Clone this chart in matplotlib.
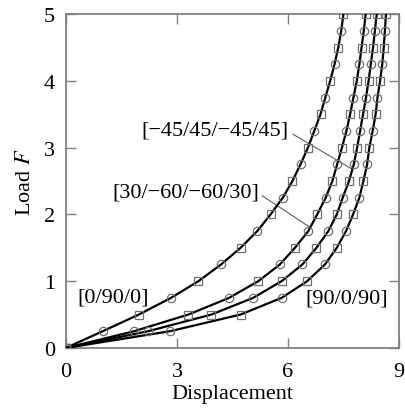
import matplotlib
matplotlib.use("Agg")
import matplotlib.pyplot as plt

# Load levels (shared by all curves)
load = [0, 0.25, 0.5, 0.75, 1.0, 1.25, 1.5, 1.75, 2.0, 2.25, 2.5,
        2.75, 3.0, 3.25, 3.5, 3.75, 4.0, 4.25, 4.5, 4.75, 5.0]

# Displacement for each lay-up
disp_0_90_0 = [0, 0.99, 1.97, 2.84, 3.58, 4.19, 4.72, 5.17, 5.53, 5.86, 6.12,
               6.34, 6.54, 6.71, 6.88, 7.01, 7.14, 7.26, 7.36, 7.44, 7.50]
disp_30_60 = [0, 1.84, 3.31, 4.41, 5.20, 5.78, 6.19, 6.55, 6.79, 7.02, 7.20,
              7.33, 7.46, 7.58, 7.68, 7.77, 7.86, 7.93, 7.99, 8.05, 8.10]
disp_45_45 = [0, 2.22, 3.93, 5.06, 5.83, 6.39, 6.77, 7.09, 7.32, 7.48, 7.65,
              7.78, 7.87, 7.95, 8.03, 8.11, 8.18, 8.24, 8.30, 8.35, 8.40]
disp_90_0_90 = [0, 2.81, 4.72, 5.83, 6.52, 7.00, 7.32, 7.57, 7.76, 7.93, 8.04,
                8.14, 8.20, 8.29, 8.37, 8.42, 8.49, 8.55, 8.59, 8.62, 8.65]

series = [disp_0_90_0, disp_30_60, disp_45_45, disp_90_0_90]

labels = ["[0/90/0]", "[30/\u221260/\u221260/30]",
          "[\u221245/45/\u221245/45]", "[90/0/90]"]

xticks = [0, 3, 6, 9]
yticks = [0, 1, 2, 3, 4, 5]

plt.rcParams['font.family'] = ['Liberation Serif', 'DejaVu Serif']
plt.rcParams['mathtext.fontset'] = 'stix'

fig = plt.figure(figsize=(4.05, 4.10), dpi=100)
ax = fig.add_axes([0.163, 0.149, 0.822, 0.814])

mcol = '#707070'
for d in series:
    ax.plot(d, load, color='black', lw=1.6, zorder=3)
    ax.plot(d[0::2], load[0::2], ls='none', marker='s', ms=5.8,
            mfc='none', mec=mcol, mew=0.9, zorder=4)
    ax.plot(d[1::2], load[1::2], ls='none', marker='o', ms=6.0,
            mfc='none', mec=mcol, mew=0.9, zorder=4)

fs = 16
ax.text(0.32, 0.76, labels[0], fontsize=fs, ha='left', va='center')
ax.text(6.46, 0.75, labels[3], fontsize=fs, ha='left', va='center')
ax.text(5.22, 2.34, labels[1], fontsize=fs, ha='right', va='center')
ax.text(6.02, 3.26, labels[2], fontsize=fs, ha='right', va='center')

lcol = '#606060'
ax.plot([5.30, 6.59], [2.28, 1.81], color=lcol, lw=0.8, zorder=2)
ax.plot([6.14, 7.73], [3.20, 2.68], color=lcol, lw=0.8, zorder=2)

ax.set_xlim(0, 9)
ax.set_ylim(0, 5)
ax.set_xticks(xticks)
ax.set_yticks(yticks)
ax.tick_params(direction='in', length=7, width=1.0, color='#808080',
               top=True, right=True, labelsize=fs, pad=8)
ax.tick_params(axis='x', pad=10)
for s in ax.spines.values():
    s.set_color('#808080')
    s.set_linewidth(1.3)

ax.set_xlabel('Displacement', fontsize=fs, labelpad=2)
ax.set_ylabel('Load $F$', fontsize=fs, labelpad=6)

fig.savefig('out.png', dpi=100)
